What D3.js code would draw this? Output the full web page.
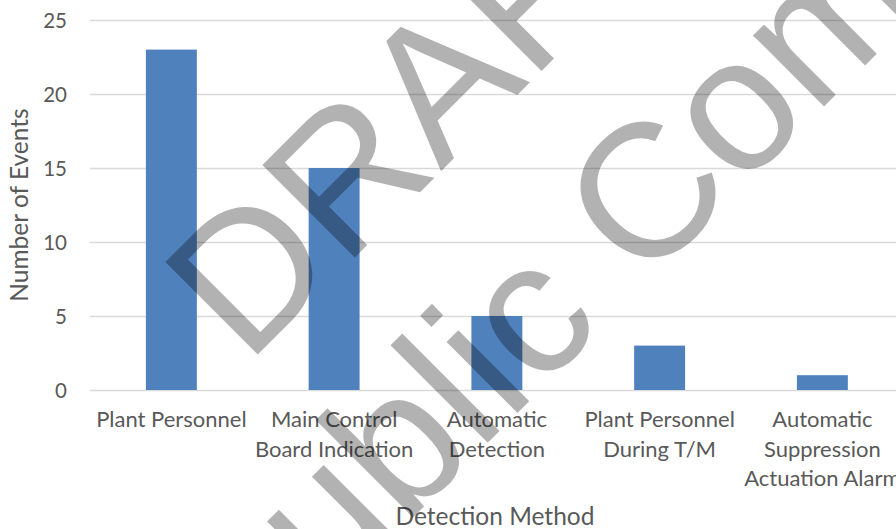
<!DOCTYPE html>
<html lang="en">
<head>
<meta charset="UTF-8">
<title>Number of Events by Detection Method</title>
<script src="https://d3js.org/d3.v7.min.js"></script>
<style>
    body { margin: 0; background: #ffffff; }
    svg { display: block; }
    .axis-title { fill: #595959; font-family: Lato, "Open Sans", sans-serif; font-size: 24.5px; }
    .watermark { font-family: "Liberation Sans", Arial, sans-serif; font-size: 190px; fill: #000; fill-opacity: 0.3; pointer-events: none; }
</style>
</head>
<body>
<svg width="896" height="529"></svg>
<script>
// data
var categories = ["Plant Personnel", "Main Control Board Indication", "Automatic Detection",
                  "Plant Personnel During T/M", "Automatic Suppression Actuation Alarm"];
var counts = [23, 15, 5, 3, 1];
// category labels as Excel wrapped them
var categoryLines = [["Plant Personnel"], ["Main Control", "Board Indication"], ["Automatic", "Detection"],
                     ["Plant Personnel", "During T/M"], ["Automatic", "Suppression", "Actuation Alarm"]];
var yTicks = [0, 5, 10, 15, 20, 25];
var xTitle = "Detection Method";
var yTitle = "Number of Events";
var watermarkLines = ["DRAFT", "Public Comment"];

var svg = d3.select("svg"),
    width = +svg.attr("width"),
    height = +svg.attr("height");

var plotLeft = 90, plotTop = 20, plotBottom = 390;
var step = 162.75;

var x = d3.scaleBand()
    .domain(categories)
    .range([plotLeft, plotLeft + step * categories.length])
    .paddingInner(0.687)
    .paddingOuter(0.3435);

var y = d3.scaleLinear()
    .domain([0, 25])
    .range([plotBottom, plotTop]);

// gridlines + y tick labels
var yAxis = svg.append("g")
    .attr("transform", "translate(" + plotLeft + ",0)")
    .call(d3.axisLeft(y).tickValues(yTicks).tickSizeInner(-(width - plotLeft)).tickSizeOuter(0).tickPadding(23));
yAxis.select(".domain").remove();
yAxis.selectAll(".tick line").attr("stroke", "#d9d9d9").attr("stroke-width", 1.6);
yAxis.selectAll(".tick text")
    .attr("fill", "#595959")
    .attr("font-family", "Lato, 'Open Sans', sans-serif")
    .attr("font-size", 20.5)
    .attr("dy", "0.36em");

// bars
svg.append("g").selectAll("rect")
    .data(counts)
    .join("rect")
    .attr("x", (d, i) => x(categories[i]))
    .attr("y", d => y(d))
    .attr("width", x.bandwidth())
    .attr("height", d => y(0) - y(d))
    .attr("fill", "#4f81bd");

// category axis
var xAxis = svg.append("g")
    .attr("transform", "translate(0," + plotBottom + ")")
    .call(d3.axisBottom(x).tickSize(0));
xAxis.select(".domain").remove();
xAxis.selectAll(".tick text")
    .attr("fill", "#595959")
    .attr("font-family", "Lato, 'Open Sans', sans-serif")
    .attr("font-size", 22)
    .attr("y", 0)
    .attr("dy", null)
    .text(null)
    .each(function(d, i) {
        var t = d3.select(this);
        categoryLines[i].forEach(function(line, k) {
            t.append("tspan").attr("x", 0).attr("y", 37 + k * 29.5).text(line);
        });
    });

// axis titles
svg.append("text")
    .attr("class", "axis-title")
    .attr("text-anchor", "middle")
    .attr("x", 495)
    .attr("y", 525)
    .text(xTitle);

svg.append("text")
    .attr("class", "axis-title")
    .attr("text-anchor", "middle")
    .attr("transform", "translate(28,205) rotate(-90)")
    .text(yTitle);

// watermark over the chart
var wm = svg.append("g").attr("transform", "rotate(-45)");
wm.append("text").attr("class", "watermark").attr("x", -84).attr("y", 433).text(watermarkLines[0]);
wm.append("text").attr("class", "watermark").attr("x", -319).attr("y", 658).text(watermarkLines[1]);
</script>
</body>
</html>
